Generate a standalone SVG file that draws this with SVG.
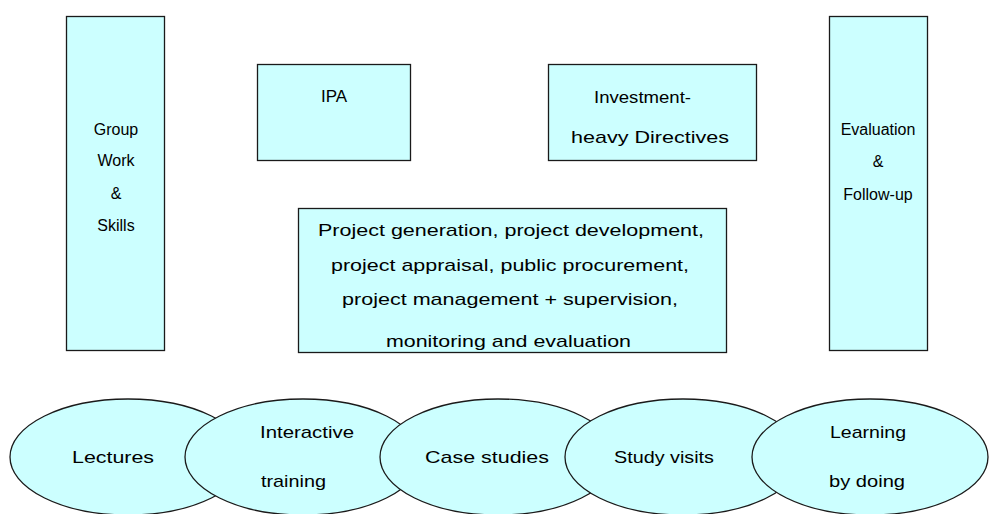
<svg xmlns="http://www.w3.org/2000/svg" width="1005" height="514" viewBox="0 0 1005 514">
<style>
.box{fill:#CCFFFF;stroke:#1a1a1a;stroke-width:1.3}
.t{font-family:"Liberation Sans",Arial,sans-serif;font-size:16px;fill:#000;text-anchor:middle}
.b{font-family:"Liberation Sans",Arial,sans-serif;font-size:17px;fill:#000;text-anchor:start}
</style>
<rect width="1005" height="514" fill="#fff"/>
<g id="connectors"></g>
<g id="group-work">
<rect class="box" x="66.5" y="16.5" width="98" height="334"/>
<text class="t" x="116" y="135">Group</text>
<text class="t" x="116" y="166">Work</text>
<text class="t" x="116" y="199">&amp;</text>
<text class="t" x="116" y="231">Skills</text>
</g>
<g id="ipa">
<rect class="box" x="257.5" y="64.5" width="153" height="96"/>
<text class="t" x="334" y="102" style="font-size:17px">IPA</text>
</g>
<g id="investment">
<rect class="box" x="548.5" y="64.5" width="208" height="96"/>
<text class="b" x="594" y="103" textLength="97" lengthAdjust="spacingAndGlyphs">Investment-</text>
<text class="b" x="571" y="143" textLength="158" lengthAdjust="spacingAndGlyphs">heavy Directives</text>
</g>
<g id="evaluation">
<rect class="box" x="829.5" y="16.5" width="98" height="334"/>
<text class="t" x="878" y="135">Evaluation</text>
<text class="t" x="878" y="167">&amp;</text>
<text class="t" x="878" y="200">Follow-up</text>
</g>
<g id="project">
<rect class="box" x="298.5" y="208.5" width="428" height="144"/>
<text class="b" x="318" y="236" textLength="386" lengthAdjust="spacingAndGlyphs">Project generation, project development,</text>
<text class="b" x="331" y="271" textLength="358" lengthAdjust="spacingAndGlyphs">project appraisal, public procurement,</text>
<text class="b" x="342" y="305" textLength="336" lengthAdjust="spacingAndGlyphs">project management + supervision,</text>
<text class="b" x="386" y="347" textLength="245" lengthAdjust="spacingAndGlyphs">monitoring and evaluation</text>
</g>
<g id="lectures">
<ellipse class="box" cx="128" cy="457" rx="118" ry="58"/>
<text class="b" x="72" y="463" textLength="82" lengthAdjust="spacingAndGlyphs">Lectures</text>
</g>
<g id="interactive">
<ellipse class="box" cx="303" cy="457" rx="118" ry="58"/>
<text class="b" x="260" y="438" textLength="94" lengthAdjust="spacingAndGlyphs">Interactive</text>
<text class="b" x="261" y="487" textLength="65" lengthAdjust="spacingAndGlyphs">training</text>
</g>
<g id="case-studies">
<ellipse class="box" cx="498" cy="457" rx="118" ry="58"/>
<text class="b" x="425" y="463" textLength="124" lengthAdjust="spacingAndGlyphs">Case studies</text>
</g>
<g id="study-visits">
<ellipse class="box" cx="683" cy="457" rx="118" ry="58"/>
<text class="b" x="614" y="463" textLength="100" lengthAdjust="spacingAndGlyphs">Study visits</text>
</g>
<g id="learning">
<ellipse class="box" cx="870" cy="457" rx="118" ry="58"/>
<text class="b" x="830" y="438" textLength="76" lengthAdjust="spacingAndGlyphs">Learning</text>
<text class="b" x="829" y="487" textLength="76" lengthAdjust="spacingAndGlyphs">by doing</text>
</g>
</svg>
